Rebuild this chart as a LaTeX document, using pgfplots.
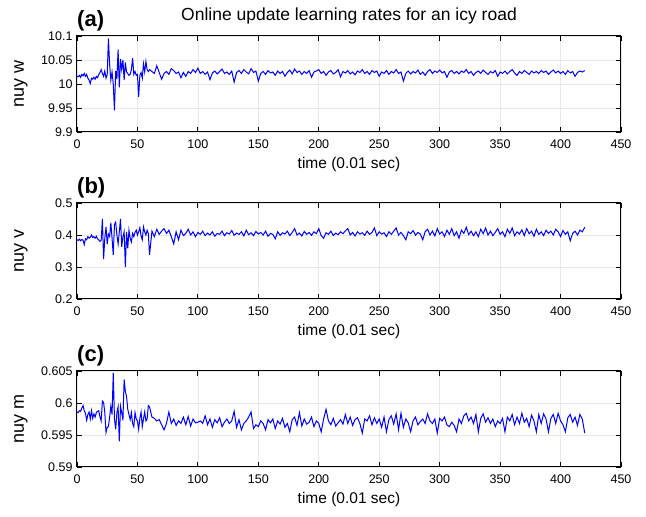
\documentclass[border=0pt]{standalone}
\usepackage{pgfplots}
\pgfplotsset{compat=1.18}
\usepackage{fontspec}
\setmainfont{Liberation Sans}

\pgfplotsset{
 panel/.style={
  scale only axis, width=544pt, height=96pt, anchor=south west,
  xmin=0, xmax=450, xtick={0,50,...,450},
  axis line style={line width=1pt},
  tick align=inside, major tick length=5pt,
  grid=major, grid style={gray!18, line width=0.6pt},
  tick style={black, line width=0.8pt},
  no markers,
  /pgf/number format/assume math mode=true,
  ticklabel style={font=\fontsize{12.5}{14}\selectfont},
  xticklabel style={yshift=-4pt},
  yticklabel style={xshift=-1pt},
  xlabel={time (0.01 sec)},
  xlabel style={font=\fontsize{15.5}{17}\selectfont, at={(axis description cs:0.5,0)}, anchor=center, yshift=-32pt},
  ylabel style={font=\fontsize{18}{20}\selectfont, at={(axis description cs:-0.103,0.5)}, anchor=center},
  every axis plot/.append style={blue, line width=1pt, mark=none},
 }
}

\begin{document}
\begin{tikzpicture}
\path[use as bounding box] (0,0) rectangle (646pt,517pt);

% ---------------- (a)
\begin{axis}[panel, at={(77pt,385pt)},
  ymin=9.9, ymax=10.1, ytick={9.9,9.95,10,10.05,10.1},
  yticklabels={9.9,9.95,10,10.05,10.1},
  ylabel={nuy w},
  title={Online update learning rates for an icy road},
  title style={font=\fontsize{17.5}{20}\selectfont, at={(axis description cs:0.5,1)}, anchor=base, yshift=9.5pt}]
\addplot coordinates {
(0,10.016)(1,10.015)(2,10.018)(3,10.014)(4,10.02)(5,10.017)(6,10.022)(7,10.016)(8,10.02)(9,10.012)
(10,10.008)(11,10.001)(12,10.012)(13,10.01)(14,10.014)(15,10.01)(16,10.016)(17,10.013)(18,10.02)(19,10.024)
(20,10.03)(21,10.022)(22,10.016)(23,10.027)(24,10.012)(25,10.02)(26,10.095)(27,10.04)(28,10.008)(29,10.025)
(30,10.0)(31,9.945)(32,10.027)(33,10.01)(34,10.072)(35,9.993)(36,10.052)(37,10.03)(38,10.05)(39,10.008)
(40,10.045)(41,10.025)(42,10.022)(43,10.018)(44,10.02)(45,10.03)(46,10.054)(47,10.02)(48,10.026)(49,10.018)
(50,10.02)(51,9.973)(52,10.018)(53,10.024)(54,10.012)(55,10.042)(56,10.025)(57,10.047)(58,10.03)(59,10.026)
(60,10.03)(62,10.026)(64,10.022)(66,10.038)(68,10.024)(70,10.01)(72,10.022)(74,10.026)(76,10.02)(78,10.032)
(80,10.028)(82,10.022)(84,10.025)(86,10.013)(88,10.024)(90,10.016)(92,10.026)(94,10.022)(96,10.03)(98,10.024)
(100,10.033)(102,10.022)(104,10.026)(106,10.02)(108,10.025)(110,10.009)(112,10.023)(114,10.027)(116,10.021)(118,10.026)
(120,10.031)(122,10.022)(124,10.025)(126,10.02)(128,10.027)(130,10.004)(132,10.024)(134,10.028)(136,10.022)(138,10.03)
(140,10.025)(142,10.021)(144,10.032)(146,10.024)(148,10.027)(150,10.006)(152,10.022)(154,10.026)(156,10.02)(158,10.028)
(160,10.023)(162,10.025)(164,10.018)(166,10.027)(168,10.022)(170,10.026)(172,10.016)(174,10.024)(176,10.029)(178,10.021)
(180,10.031)(182,10.024)(184,10.027)(186,10.02)(188,10.026)(190,10.022)(192,10.028)(194,10.014)(196,10.025)(198,10.027)
(200,10.03)(202,10.022)(204,10.026)(206,10.018)(208,10.025)(210,10.028)(212,10.021)(214,10.024)(216,10.03)(218,10.015)
(220,10.026)(222,10.023)(224,10.028)(226,10.021)(228,10.025)(230,10.019)(232,10.027)(234,10.024)(236,10.03)(238,10.022)
(240,10.026)(242,10.02)(244,10.028)(246,10.024)(248,10.027)(250,10.016)(252,10.025)(254,10.022)(256,10.028)(258,10.02)
(260,10.026)(262,10.023)(264,10.03)(266,10.022)(268,10.025)(270,10.006)(272,10.022)(274,10.027)(276,10.021)(278,10.026)
(280,10.023)(282,10.029)(284,10.02)(286,10.025)(288,10.018)(290,10.026)(292,10.03)(294,10.022)(296,10.027)(298,10.024)
(300,10.029)(302,10.023)(304,10.026)(306,10.014)(308,10.025)(310,10.028)(312,10.022)(314,10.026)(316,10.021)(318,10.027)
(320,10.024)(322,10.03)(324,10.022)(326,10.026)(328,10.018)(330,10.024)(332,10.027)(334,10.022)(336,10.029)(338,10.024)
(340,10.02)(342,10.026)(344,10.023)(346,10.028)(348,10.016)(350,10.025)(352,10.022)(354,10.027)(356,10.021)(358,10.026)
(360,10.03)(362,10.023)(364,10.018)(366,10.026)(368,10.022)(370,10.028)(372,10.024)(374,10.02)(376,10.027)(378,10.023)
(380,10.026)(382,10.022)(384,10.028)(386,10.024)(388,10.027)(390,10.02)(392,10.025)(394,10.029)(396,10.023)(398,10.027)
(400,10.022)(402,10.026)(404,10.02)(406,10.028)(408,10.023)(410,10.026)(412,10.016)(414,10.024)(416,10.027)(418,10.025)
(420,10.028)
};
\end{axis}

% ---------------- (b)
\begin{axis}[panel, at={(77pt,218pt)},
  ymin=0.2, ymax=0.5, ytick={0.2,0.3,0.4,0.5},
  yticklabels={0.2,0.3,0.4,0.5},
  ylabel={nuy v}]
\addplot coordinates {
(0,0.385)(1,0.383)(2,0.387)(3,0.382)(4,0.386)(5,0.384)(6,0.37)(7,0.388)(8,0.385)(9,0.395)
(10,0.39)(11,0.393)(12,0.4)(13,0.392)(14,0.395)(15,0.39)(16,0.396)(17,0.388)(18,0.385)(19,0.38)
(20,0.383)(21,0.45)(22,0.325)(23,0.39)(24,0.425)(25,0.372)(26,0.403)(27,0.395)(28,0.438)(29,0.39)
(30,0.338)(31,0.433)(32,0.44)(33,0.4)(34,0.372)(35,0.41)(36,0.45)(37,0.363)(38,0.395)(39,0.41)
(40,0.3)(41,0.41)(42,0.358)(43,0.415)(44,0.39)(45,0.378)(46,0.405)(47,0.395)(48,0.408)(49,0.415)
(50,0.4)(51,0.41)(52,0.423)(53,0.398)(54,0.385)(55,0.425)(56,0.41)(57,0.4)(58,0.415)(59,0.405)
(60,0.338)(62,0.412)(64,0.395)(66,0.418)(68,0.402)(70,0.412)(72,0.42)(74,0.405)(76,0.415)(78,0.395)
(80,0.372)(82,0.41)(84,0.385)(86,0.415)(88,0.398)(90,0.405)(92,0.418)(94,0.4)(96,0.41)(98,0.395)
(100,0.408)(102,0.402)(104,0.412)(106,0.398)(108,0.406)(110,0.4)(112,0.41)(114,0.396)(116,0.405)(118,0.402)
(120,0.412)(122,0.398)(124,0.407)(126,0.403)(128,0.414)(130,0.399)(132,0.406)(134,0.402)(136,0.41)(138,0.397)
(140,0.415)(142,0.401)(144,0.407)(146,0.398)(148,0.411)(150,0.403)(152,0.408)(154,0.4)(156,0.412)(158,0.396)
(160,0.405)(162,0.402)(164,0.388)(166,0.41)(168,0.399)(170,0.407)(172,0.403)(174,0.412)(176,0.398)(178,0.408)
(180,0.42)(182,0.4)(184,0.406)(186,0.397)(188,0.411)(190,0.402)(192,0.408)(194,0.399)(196,0.41)(198,0.404)
(200,0.42)(202,0.398)(204,0.39)(206,0.407)(208,0.402)(210,0.412)(212,0.398)(214,0.406)(216,0.401)(218,0.41)
(220,0.404)(222,0.413)(224,0.42)(226,0.4)(228,0.408)(230,0.397)(232,0.41)(234,0.403)(236,0.407)(238,0.399)
(240,0.412)(242,0.402)(244,0.408)(246,0.422)(248,0.398)(250,0.41)(252,0.403)(254,0.407)(256,0.395)(258,0.41)
(260,0.402)(262,0.412)(264,0.422)(266,0.4)(268,0.408)(270,0.398)(272,0.385)(274,0.41)(276,0.404)(278,0.414)
(280,0.399)(282,0.408)(284,0.403)(286,0.385)(288,0.41)(290,0.418)(292,0.4)(294,0.412)(296,0.397)(298,0.42)
(300,0.403)(302,0.41)(304,0.395)(306,0.415)(308,0.402)(310,0.42)(312,0.398)(314,0.41)(316,0.39)(318,0.415)
(320,0.405)(322,0.424)(324,0.401)(326,0.412)(328,0.398)(330,0.41)(332,0.395)(334,0.418)(336,0.404)(338,0.422)
(340,0.4)(342,0.412)(344,0.398)(346,0.408)(348,0.42)(350,0.402)(352,0.41)(354,0.395)(356,0.418)(358,0.405)
(360,0.422)(362,0.398)(364,0.41)(366,0.403)(368,0.416)(370,0.398)(372,0.42)(374,0.404)(376,0.412)(378,0.396)
(380,0.418)(382,0.402)(384,0.41)(386,0.398)(388,0.415)(390,0.405)(392,0.412)(394,0.4)(396,0.418)(398,0.41)
(400,0.395)(402,0.414)(404,0.402)(406,0.41)(408,0.382)(410,0.405)(412,0.412)(414,0.4)(416,0.415)(418,0.41)
(420,0.424)
};
\end{axis}

% ---------------- (c)
\begin{axis}[panel, at={(77pt,50pt)},
  ymin=0.59, ymax=0.605, ytick={0.59,0.595,0.6,0.605},
  yticklabels={0.59,0.595,0.6,0.605},
  ylabel={nuy m}]
\addplot coordinates {
(0,0.5986)(1,0.5985)(2,0.5988)(3,0.5987)(4,0.5992)(5,0.5996)(6,0.5988)(7,0.5984)(8,0.5973)(9,0.5982)
(10,0.5986)(11,0.5975)(12,0.5988)(13,0.5976)(14,0.5983)(15,0.5978)(16,0.5985)(17,0.5987)(18,0.5988)(19,0.5978)
(20,0.5972)(21,0.6003)(22,0.6001)(23,0.5985)(24,0.5954)(25,0.5962)(26,0.5963)(27,0.5978)(28,0.5995)(29,0.5982)
(30,0.6047)(31,0.5975)(32,0.5959)(33,0.5985)(34,0.5994)(35,0.594)(36,0.5995)(37,0.5985)(38,0.5973)(39,0.6037)
(40,0.6018)(41,0.601)(42,0.599)(43,0.5982)(44,0.5974)(45,0.5985)(46,0.5968)(47,0.5963)(48,0.5985)(49,0.5975)
(50,0.5972)(51,0.5959)(52,0.5976)(53,0.5986)(54,0.5963)(55,0.5975)(56,0.5986)(57,0.5972)(58,0.5975)(59,0.5996)
(60,0.5994)(62,0.5978)(64,0.5976)(66,0.5972)(68,0.5974)(70,0.5966)(72,0.5958)(74,0.5968)(76,0.5986)(78,0.5968)
(80,0.5975)(82,0.5965)(84,0.5972)(86,0.5968)(88,0.5978)(90,0.5966)(92,0.5979)(94,0.5964)(96,0.5975)(98,0.5969)
(100,0.597)(102,0.5972)(104,0.5968)(106,0.598)(108,0.5966)(110,0.5975)(112,0.5962)(114,0.5974)(116,0.5969)(118,0.5977)
(120,0.5963)(122,0.597)(124,0.5975)(126,0.5968)(128,0.5972)(130,0.5987)(132,0.5962)(134,0.5974)(136,0.5958)(138,0.5968)
(140,0.5972)(142,0.5978)(144,0.5986)(146,0.596)(148,0.5966)(150,0.5963)(152,0.5972)(154,0.5968)(156,0.5958)(158,0.5974)
(160,0.5969)(162,0.5975)(164,0.596)(166,0.5972)(168,0.5967)(170,0.5976)(172,0.5962)(174,0.5968)(176,0.5955)(178,0.5974)
(180,0.5978)(182,0.5965)(184,0.5985)(186,0.5964)(188,0.5975)(190,0.5967)(192,0.597)(194,0.5978)(196,0.5963)(198,0.5972)
(200,0.5968)(202,0.5955)(204,0.5975)(206,0.599)(208,0.5972)(210,0.5966)(212,0.5976)(214,0.5964)(216,0.5969)(218,0.5974)
(220,0.5967)(222,0.5982)(224,0.5968)(226,0.5978)(228,0.5965)(230,0.5974)(232,0.5977)(234,0.5968)(236,0.5953)(238,0.5975)
(240,0.5972)(242,0.598)(244,0.5966)(246,0.5977)(248,0.5968)(250,0.5975)(252,0.5962)(254,0.5978)(256,0.5955)(258,0.5974)
(260,0.598)(262,0.5967)(264,0.5983)(266,0.5958)(268,0.5984)(270,0.5962)(272,0.5975)(274,0.5969)(276,0.5955)(278,0.5972)
(280,0.5978)(282,0.5966)(284,0.5971)(286,0.5975)(288,0.5968)(290,0.5983)(292,0.5972)(294,0.5968)(296,0.5975)(298,0.5953)
(300,0.5976)(302,0.5972)(304,0.5978)(306,0.5966)(308,0.5963)(310,0.597)(312,0.5965)(314,0.5955)(316,0.5975)(318,0.5968)
(320,0.598)(322,0.5984)(324,0.5972)(326,0.5978)(328,0.5968)(330,0.5982)(332,0.5955)(334,0.5976)(336,0.5983)(338,0.597)
(340,0.5977)(342,0.5968)(344,0.5975)(346,0.5963)(348,0.5972)(350,0.5968)(352,0.5976)(354,0.5955)(356,0.5978)(358,0.5972)
(360,0.5982)(362,0.5966)(364,0.5978)(366,0.5968)(368,0.5984)(370,0.597)(372,0.5976)(374,0.5963)(376,0.5981)(378,0.5972)
(380,0.5955)(382,0.5982)(384,0.5968)(386,0.5983)(388,0.5975)(390,0.5955)(392,0.5976)(394,0.5982)(396,0.5968)(398,0.5984)
(400,0.5972)(402,0.5966)(404,0.5955)(406,0.5977)(408,0.5982)(410,0.597)(412,0.5978)(414,0.5965)(416,0.5982)(418,0.5975)
(420,0.5953)
};
\end{axis}

\node[anchor=base west, inner sep=0pt, font=\fontsize{22}{24}\selectfont\bfseries] at (77pt,490.5pt) {(a)};
\node[anchor=base west, inner sep=0pt, font=\fontsize{22}{24}\selectfont\bfseries] at (77pt,323.5pt) {(b)};
\node[anchor=base west, inner sep=0pt, font=\fontsize{22}{24}\selectfont\bfseries] at (77pt,155.5pt) {(c)};
\end{tikzpicture}
\end{document}
